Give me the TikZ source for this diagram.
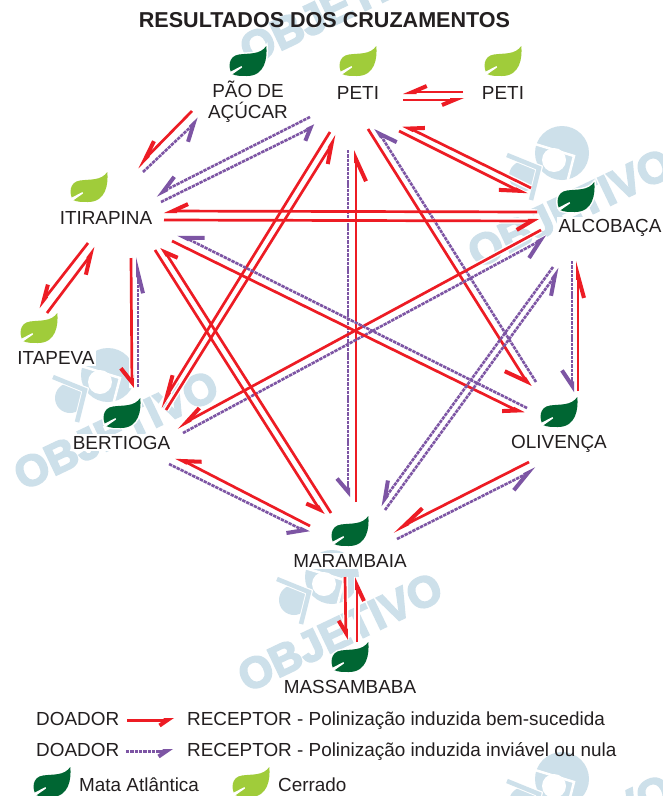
\documentclass[tikz,border=0pt]{standalone}
\usepackage{fontspec}
\setmainfont{Liberation Sans}
\newfontfamily\wmfont[BoldFeatures={FakeBold=4}]{Liberation Sans}
\usetikzlibrary{arrows.meta}
\definecolor{redc}{HTML}{ED1C24}
\definecolor{purc}{HTML}{7D55A4}
\definecolor{dkleaf}{HTML}{006633}
\definecolor{ltleaf}{HTML}{A0CC3A}
\definecolor{wmark}{HTML}{CDE0EA}
\definecolor{txt}{HTML}{231F20}
\tikzset{
  lab/.style={anchor=base,text=txt,font=\fontsize{18.9}{21}\selectfont,inner sep=1.5pt,fill=white,align=center},
  leg/.style={anchor=base west,text=txt,font=\fontsize{18.9}{21}\selectfont,inner sep=0pt},
  redl/.style={draw=redc,line width=2.7pt},
  purl/.style={draw=purc,line width=2.6pt,dash pattern=on 3.4pt off 0.9pt},
  pics/leaf/.style={code={
    \draw[white,line width=3pt,fill=white] (37.3,0) .. controls (38.5,12) and (36,30) .. (18,30) .. controls (12,30) and (7,30) .. (3,28) .. controls (-1,22) and (-1,10) .. (10,8.5) .. controls (20,7) and (31,9) .. (37.3,0) -- cycle;
    \fill[#1] (37.3,0) .. controls (38.5,12) and (36,30) .. (18,30) .. controls (12,30) and (7,30) .. (3,28) .. controls (-1,22) and (-1,10) .. (10,8.5) .. controls (20,7) and (31,9) .. (37.3,0) -- cycle;
    \fill[white] (0,26.5) -- (12.5,20) -- (13,21.5) -- (3,28.5) -- cycle;
  }},
  pics/wm/.style={code={
    \fill[wmark] (0,0) circle (27);
    \fill[white] (-8,7) circle (12);
    \draw[white,line width=2.5pt] (-27,-9) -- (12,3) -- (5,30);
    \draw[white,line width=7pt] (-55,2) -- (-23,15) -- (-31,47);
    \fill[wmark] (-38,23) circle (15);
    \draw[white,line width=6.5pt] (-55,2) -- (-23,15) -- (-31,47);
    \draw[wmark,line width=4.5pt] (-55,2) -- (-23,15) -- (-31,47);
    \node[rotate=25.5,text=wmark,inner sep=0pt,font=\wmfont\fontsize{43.5}{44}\bfseries\selectfont] at (8,55) {OBJETIVO};
  }},
}
\begin{document}
\begin{tikzpicture}[x=1pt,y=-1pt]
\path[clip] (0,0) rectangle (663,796);
\fill[white] (0,0) rectangle (663,796);
% watermarks
\pic at (334,-50) {wm};
\pic at (562,153) {wm};
\pic at (108,375) {wm};
\pic at (332,577) {wm};
\pic at (562,779) {wm};
% connector end points
\coordinate (q1) at (463,92); \coordinate (q2) at (464,100);
\coordinate (p1) at (403,92); \coordinate (p2) at (403,100);
\coordinate (p3) at (310,117); \coordinate (p4) at (315,126);
\coordinate (p5) at (330,132); \coordinate (p6) at (337,136);
\coordinate (p7) at (348,150); \coordinate (p8) at (356,150);
\coordinate (p9) at (368,129); \coordinate (p10) at (376,128);
\coordinate (p11) at (403,125); \coordinate (p12) at (399,131);
\coordinate (a1) at (192,111); \coordinate (a2) at (199,119);
\coordinate (i1) at (137,167); \coordinate (i2) at (143,172);
\coordinate (i3) at (156,195); \coordinate (i4) at (161,202);
\coordinate (i5) at (164,211); \coordinate (i6) at (164,220);
\coordinate (i7) at (178,234); \coordinate (i8) at (172,241);
\coordinate (i9) at (155,250); \coordinate (i10) at (162,247);
\coordinate (i11) at (88,243); \coordinate (i12) at (96,248);
\coordinate (i13) at (131,258); \coordinate (i14) at (138,257);
\coordinate (t1) at (38,307); \coordinate (t2) at (47,313);
\coordinate (b1) at (160,407); \coordinate (b2) at (166,410);
\coordinate (b3) at (177,427); \coordinate (b4) at (183,433);
\coordinate (b5) at (176,457); \coordinate (b6) at (169,464);
\coordinate (b7) at (132,388); \coordinate (b8) at (138,387);
\coordinate (c1) at (531,188); \coordinate (c2) at (527,195);
\coordinate (c3) at (537,212); \coordinate (c4) at (539,221);
\coordinate (c5) at (541,230); \coordinate (c6) at (547,237);
\coordinate (c7) at (553,267); \coordinate (c8) at (560,269);
\coordinate (c9) at (572,261); \coordinate (c10) at (578,261);
\coordinate (o1) at (530,387); \coordinate (o2) at (536,382);
\coordinate (o3) at (527,408); \coordinate (o4) at (524,414);
\coordinate (o5) at (572,392); \coordinate (o6) at (578,391);
\coordinate (o7) at (529,462); \coordinate (o8) at (536,469);
\coordinate (m1) at (348,497); \coordinate (m2) at (356,502);
\coordinate (m3) at (323,515); \coordinate (m4) at (331,513);
\coordinate (m5) at (310,526); \coordinate (m6) at (309,533);
\coordinate (m7) at (380,505); \coordinate (m8) at (385,510);
\coordinate (m9) at (393,531); \coordinate (m10) at (397,539);
\coordinate (m11) at (345,577); \coordinate (m12) at (357,577);
\coordinate (s1) at (346,640); \coordinate (s2) at (357,642);
\coordinate (l1) at (127,720); \coordinate (l2) at (174,720);
\coordinate (l3) at (126,751); \coordinate (l4) at (173,751);
\def\links{q1/p1/redl/14/6, p2/q2/redl/12/5,
 a1/i1/redl/18/6, i2/a2/purl/16/9,
 p3/i3/purl/16/8, i4/p4/purl/10/9,
 p5/b1/redl/20/6, b2/p6/redl/18/7,
 p7/m1/purl/13/11, m2/p8/redl/22/10,
 p9/o1/redl/20/13, o2/p10/purl/16/10,
 c1/p11/redl/13/7, p12/c2/redl/18/8,
 c3/i5/redl/15/7, i6/c4/redl/15/9,
 c5/b3/redl/17/6, b4/c6/purl/18/10,
 o3/i7/purl/17/8.5, i8/o4/redl/13/7,
 i9/m3/redl/12/8, m4/i10/redl/11/7.5,
 m5/b5/redl/16/7.5, b6/m6/purl/14/10,
 c7/m7/purl/16/8, m8/c8/purl/18/8.5,
 c9/o5/purl/15/10, o6/c10/redl/22/6,
 o7/m9/redl/23/7, m10/o8/purl/20/9,
 m11/s1/redl/12/7, s2/m12/redl/15/7,
 i11/t1/redl/14/6, t2/i12/redl/18/8,
 i13/b7/redl/14/11, b8/i14/purl/20/5}
% white halo under all connectors
\foreach \s/\t/\k/\l/\w in \links {\draw[white,line width=5.5pt] (\s) -- (\t);}
% leaves
\pic at (229,46) {leaf=dkleaf};
\pic at (339,46) {leaf=ltleaf};
\pic at (484,46) {leaf=ltleaf};
\pic at (70,172) {leaf=ltleaf};
\pic at (20,313) {leaf=ltleaf};
\pic at (103,398) {leaf=dkleaf};
\pic at (557,182) {leaf=dkleaf};
\pic at (540,397) {leaf=dkleaf};
\pic at (331,516) {leaf=dkleaf};
\pic at (331,642) {leaf=dkleaf};
\pic at (33,767) {leaf=dkleaf};
\pic at (232,767) {leaf=ltleaf};
% labels
\node[anchor=base,text=txt,font=\fontsize{21.55}{24}\bfseries\selectfont,inner sep=0pt] (title) at (324.5,27) {RESULTADOS DOS CRUZAMENTOS};
\node[lab] (pao) at (248,118) {PÃO DE\\AÇÚCAR};
\node[lab] (peti) at (358,99) {PETI};
\node[lab] (peti2) at (503,99) {PETI};
\node[lab] (itirapina) at (106,224) {ITIRAPINA};
\node[lab] (itapeva) at (56,364) {ITAPEVA};
\node[lab] (bertioga) at (121.5,449) {BERTIOGA};
\node[lab] (alcobaca) at (610,232) {ALCOBAÇA};
\node[lab] (olivenca) at (559,448) {OLIVENÇA};
\node[lab] (marambaia) at (350,567) {MARAMBAIA};
\node[lab] (massambaba) at (350,693) {MASSAMBABA};
% connectors
\foreach \s/\t/\k/\l/\w in \links {
  \pgfmathsetmacro\ww{2*\w}
  \draw[\k,-{Straight Barb[harpoon,swap,length=\l pt,width=\ww pt,line width=4pt]}] (\s) -- (\t);
}
% legend
\node[leg] (d1) at (36,725) {DOADOR};
\node[leg] (r1) at (187,725) {RECEPTOR - Polinização induzida bem-sucedida};
\node[leg] (d2) at (36,756) {DOADOR};
\node[leg] (r2) at (187,756) {RECEPTOR - Polinização induzida inviável ou nula};
\node[leg] (ma) at (79,791) {Mata Atlântica};
\node[leg] (ce) at (278,791) {Cerrado};
\draw[redl,line width=3pt,-{Straight Barb[harpoon,swap,length=8pt,width=11pt,line width=4pt]}] (l1) -- (l2);
\draw[purl,line width=3pt,-{Straight Barb[harpoon,swap,length=8pt,width=11pt,line width=4pt]}] (l3) -- (l4);
\end{tikzpicture}
\end{document}
